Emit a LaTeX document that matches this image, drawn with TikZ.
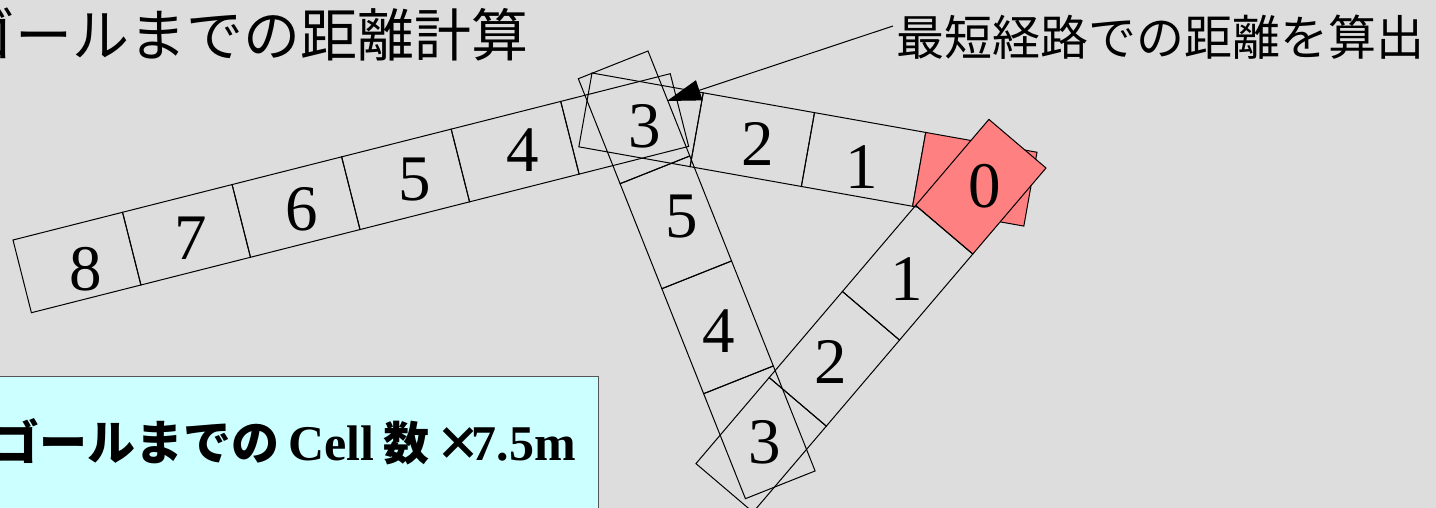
\documentclass[tikz,border=0pt]{standalone}
\usepackage{fontspec}
\setmainfont{Liberation Serif}
\newfontfamily\jp{Noto Sans CJK JP}
\usetikzlibrary{arrows.meta}
\definecolor{bgc}{HTML}{DDDDDD}
\definecolor{pinkc}{HTML}{FF8080}
\definecolor{boxfill}{HTML}{CCFFFF}
\definecolor{boxline}{HTML}{555555}
\begin{document}
\begin{tikzpicture}[x=1pt,y=-1pt,
  cell/.style={draw, line width=1pt, minimum width=113pt, minimum height=75pt, inner sep=0pt, transform shape},
  goal/.style={cell, fill=pinkc},
  num/.style={font=\fontsize{65}{65}\selectfont, inner sep=0pt},
  conn/.style={line width=1pt}]
\useasboundingbox (0,0) rectangle (1436,508);
\fill[bgc] (0,0) rectangle (1436,508);
% title
\node[anchor=base west, inner sep=0pt, font=\jp\fontsize{57}{57}\selectfont] (title) at (-42,57) {ゴールまでの距離計算};
% strip A (8..3)
\begin{scope}[shift={(13,240)}, rotate=14.2]
  \node[cell] (a8) at (56.5,37.5) {};
  \node[cell] (a7) at (169.5,37.5) {};
  \node[cell] (a6) at (282.5,37.5) {};
  \node[cell] (a5) at (395.5,37.5) {};
  \node[cell] (a4) at (508.5,37.5) {};
  \node[cell] (a3) at (621.5,37.5) {};
\end{scope}
% strip B (vertical: 3,5,4,3)
\begin{scope}[shift={(648,51)}, rotate=-68.3]
  \node[cell] (b3) at (56.5,37.5) {};
  \node[cell] (b5) at (169.5,37.5) {};
  \node[cell] (b4) at (282.5,37.5) {};
  \node[cell] (b3b) at (395.5,37.5) {};
\end{scope}
% strip C (3,2,1,0)
\begin{scope}[shift={(592,73)}, rotate=-10.1]
  \node[cell] (c3) at (56.5,37.5) {};
  \node[cell] (c2) at (169.5,37.5) {};
  \node[cell] (c1) at (282.5,37.5) {};
  \node[goal] (c0) at (395.5,37.5) {};
\end{scope}
% strip D (0,1,2,3)
\begin{scope}[shift={(1046,168)}, rotate=-130.4]
  \node[goal] (d0) at (56.5,37.5) {};
  \node[cell] (d1) at (169.5,37.5) {};
  \node[cell] (d2) at (282.5,37.5) {};
  \node[cell] (d3) at (395.5,37.5) {};
\end{scope}
% labels
\node[num] (l8) at (86,269) {8};
\node[num] (l7) at (191,238) {7};
\node[num] (l6) at (302,209) {6};
\node[num] (l5) at (415,180) {5};
\node[num] (l4) at (523,150) {4};
\node[num] (l3) at (645,126) {3};
\node[num] (l2) at (758,144) {2};
\node[num] (l1) at (862,167) {1};
\node[num] (l0) at (985,186) {0};
\node[num] (lb5) at (682,217) {5};
\node[num] (lb4) at (719,331) {4};
\node[num] (lb3) at (765,442) {3};
\node[num] (ld1) at (907,279) {1};
\node[num] (ld2) at (831,362) {2};
% note and arrow
\node[anchor=base west, inner sep=0pt, font=\jp\fontsize{48}{48}\selectfont] (note) at (896,56) {最短経路での距離を算出};
\coordinate (arrS) at (893,26);
\coordinate (arrT) at (667,101);
\draw[conn, -{Triangle[length=34pt,width=21pt]}] (arrS) -- (arrT);
% formula box
\node[draw=boxline, fill=boxfill, line width=1.3pt, anchor=north east, minimum width=640pt, minimum height=160pt, inner sep=0pt] (box) at (599,376) {};
\node[anchor=base east, inner sep=0pt, font=\bfseries\fontsize{50}{50}\selectfont] (formula) at (576,460) {{\jp\fontsize{48}{48}\selectfont ゴールまでの}\hspace{9pt}Cell\hspace{9pt}{\jp\fontsize{46}{46}\selectfont 数}\hspace{6pt}{\jp\fontsize{46}{46}\selectfont ×}\hspace{-10pt}7.5m};
\end{tikzpicture}
\end{document}
